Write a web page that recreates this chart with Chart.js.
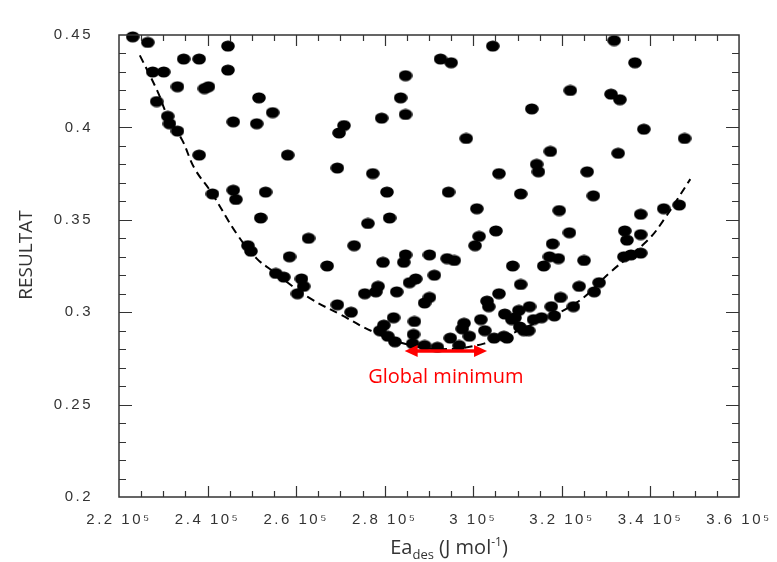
<!DOCTYPE html>
<html lang="fr">
<head>
<meta charset="UTF-8">
<title>RESULTAT vs Ea des</title>
<script src="https://cdn.jsdelivr.net/npm/chart.js"></script>
<style>
  html, body { margin: 0; padding: 0; background: white; }
  #chart { display: block; }
</style>
</head>
<body>
<canvas id="chart" width="777" height="562"></canvas>
<script>
// scatter points: Ea_des (J/mol) and RESULTAT
const eaDes = [
  2.231e5, 2.265e5, 2.446e5, 2.346e5, 2.381e5, 2.276e5, 2.301e5, 2.446e5, 2.332e5, 2.393e5,
  2.402e5, 2.516e5, 2.285e5, 2.547e5, 2.310e5, 2.458e5, 2.511e5, 2.314e5, 2.332e5, 2.381e5,
  2.581e5, 2.411e5, 2.458e5, 2.531e5, 2.464e5, 2.520e5, 2.628e5, 2.491e5, 2.498e5, 2.585e5,
  2.554e5, 2.572e5, 2.612e5, 2.617e5, 2.603e5,
  3.044e5, 2.926e5, 2.950e5, 2.847e5, 2.836e5, 2.793e5, 2.847e5, 2.708e5, 2.697e5, 2.984e5,
  2.693e5, 2.773e5, 3.058e5, 2.805e5, 2.944e5,
  3.318e5, 3.365e5, 3.219e5, 3.311e5, 3.331e5, 3.132e5, 3.385e5, 3.477e5, 3.174e5, 3.327e5,
  3.143e5, 3.147e5, 3.257e5, 3.107e5, 3.271e5,
  3.008e5, 2.811e5, 2.762e5, 3.051e5, 3.013e5, 3.004e5, 2.731e5, 2.847e5, 2.843e5, 2.901e5,
  2.941e5, 2.957e5, 2.796e5, 2.670e5, 2.912e5, 2.870e5, 2.856e5, 2.785e5, 2.780e5, 2.755e5,
  2.827e5, 2.901e5, 2.890e5, 2.693e5, 2.724e5, 2.820e5, 2.798e5, 2.867e5, 2.789e5, 2.807e5,
  2.823e5, 2.865e5, 2.863e5, 2.890e5, 2.919e5, 2.948e5, 2.968e5, 2.979e5, 2.975e5, 2.991e5,
  3.017e5, 3.026e5, 3.035e5, 3.031e5, 3.058e5, 3.071e5, 3.047e5, 3.069e5,
  3.194e5, 3.378e5, 3.430e5, 3.465e5, 3.217e5, 3.342e5, 3.347e5, 3.378e5, 3.179e5, 3.172e5,
  3.192e5, 3.250e5, 3.340e5, 3.356e5, 3.378e5, 3.089e5, 3.159e5, 3.107e5, 3.239e5, 3.284e5,
  3.273e5, 3.197e5, 3.176e5, 3.226e5, 3.127e5, 3.103e5, 3.154e5, 3.136e5, 3.183e5, 3.087e5,
  3.105e5, 3.125e5, 3.114e5, 3.076e5, 3.094e5
];
const resultat = [
  0.449, 0.446, 0.444, 0.437, 0.437, 0.430, 0.430, 0.431, 0.422, 0.421,
  0.422, 0.416, 0.414, 0.408, 0.406, 0.403, 0.402, 0.402, 0.398, 0.385,
  0.385, 0.364, 0.366, 0.365, 0.361, 0.351, 0.340, 0.336, 0.333, 0.330,
  0.321, 0.319, 0.318, 0.314, 0.310,
  0.444, 0.437, 0.435, 0.428, 0.416, 0.405, 0.407, 0.401, 0.397, 0.394,
  0.378, 0.375, 0.375, 0.365, 0.365,
  0.447, 0.435, 0.420, 0.418, 0.415, 0.410, 0.399, 0.394, 0.387, 0.386,
  0.380, 0.376, 0.376, 0.364, 0.363,
  0.356, 0.351, 0.348, 0.344, 0.341, 0.336, 0.336, 0.331, 0.327, 0.331,
  0.329, 0.328, 0.327, 0.325, 0.320, 0.318, 0.316, 0.314, 0.311, 0.310,
  0.311, 0.308, 0.305, 0.304, 0.300, 0.297, 0.293, 0.295, 0.290, 0.287,
  0.284, 0.288, 0.283, 0.282, 0.281, 0.286, 0.282, 0.294, 0.291, 0.287,
  0.296, 0.290, 0.303, 0.306, 0.310, 0.299, 0.286, 0.287,
  0.355, 0.353, 0.356, 0.358, 0.343, 0.344, 0.339, 0.342, 0.337, 0.330,
  0.329, 0.328, 0.330, 0.331, 0.332, 0.325, 0.325, 0.315, 0.314, 0.316,
  0.311, 0.308, 0.303, 0.303, 0.303, 0.301, 0.297, 0.296, 0.298, 0.296,
  0.292, 0.290, 0.290, 0.286, 0.297
];

// dashed envelope curve
const curveEa = [2.247e5, 2.287e5, 2.310e5, 2.343e5, 2.370e5, 2.408e5, 2.467e5, 2.511e5, 2.543e5, 2.628e5,
  2.702e5, 2.773e5, 2.852e5, 2.930e5, 3.024e5, 3.120e5, 3.232e5, 3.311e5, 3.394e5, 3.430e5, 3.490e5];
const curveResultat = [0.439, 0.4195, 0.406, 0.393, 0.378, 0.365, 0.342, 0.329, 0.323, 0.308,
  0.2985, 0.2895, 0.2825, 0.280, 0.283, 0.292, 0.305, 0.322, 0.339, 0.350, 0.372];

// "Global minimum" double arrow
const arrowEa = [2.845e5, 3.031e5];
const arrowResultat = 0.279;
const arrowText = 'Global minimum';

const xTickValues = [2.2e5, 2.4e5, 2.6e5, 2.8e5, 3.0e5, 3.2e5, 3.4e5, 3.6e5];
const xTickLabels = ['2.2 10⁵', '2.4 10⁵', '2.6 10⁵', '2.8 10⁵', '3 10⁵', '3.2 10⁵', '3.4 10⁵', '3.6 10⁵'];
const yTickValues = [0.2, 0.25, 0.3, 0.35, 0.4, 0.45];
const yTickLabels = ['0.2', '0.25', '0.3', '0.35', '0.4', '0.45'];

function nearestLabel(values, labels, v) {
  let best = 0;
  values.forEach((t, i) => { if (Math.abs(t - v) < Math.abs(values[best] - v)) best = i; });
  return labels[best];
}

// elliptical black marker
const dot = document.createElement('canvas');
dot.width = 14; dot.height = 12;
(function () {
  const c = dot.getContext('2d');
  c.fillStyle = '#000';
  c.beginPath();
  c.ellipse(7, 6, 6.8, 5.6, 0, 0, Math.PI * 2);
  c.fill();
})();

const AXIS = '#333';
const TITLE_FONT = '"Open Sans", sans-serif';

const framePlugin = {
  id: 'frame',
  beforeDraw(chart) { chart.ctx.letterSpacing = '2.5px'; },
  beforeDatasetsDraw(chart) { chart.ctx.letterSpacing = '0px'; },
  afterDraw(chart) {
    const { ctx, chartArea: a, scales: { x, y } } = chart;
    ctx.save();
    ctx.letterSpacing = '0px';
    ctx.strokeStyle = AXIS;
    ctx.lineWidth = 1.5;
    ctx.strokeRect(a.left, a.top, a.right - a.left, a.bottom - a.top);

    // inward ticks on all four sides (major + minor)
    ctx.beginPath();
    ctx.lineWidth = 1.2;
    for (let i = 1; i < 28; i++) {
      const v = 2.2e5 + i * 5000;
      const px = Math.round(x.getPixelForValue(v)) + 0.5;
      const len = i % 4 === 0 ? 11 : 6;
      ctx.moveTo(px, a.bottom); ctx.lineTo(px, a.bottom - len);
      ctx.moveTo(px, a.top); ctx.lineTo(px, a.top + len);
    }
    for (let i = 1; i < 25; i++) {
      const v = 0.2 + i * 0.01;
      const py = Math.round(y.getPixelForValue(v)) + 0.5;
      const len = i % 5 === 0 ? 13 : 7;
      ctx.moveTo(a.left, py); ctx.lineTo(a.left + len, py);
      ctx.moveTo(a.right, py); ctx.lineTo(a.right - len, py);
    }
    ctx.stroke();

    // red double arrow
    const x1 = x.getPixelForValue(arrowEa[0]);
    const x2 = x.getPixelForValue(arrowEa[1]);
    const ay = y.getPixelForValue(arrowResultat);
    ctx.strokeStyle = '#ff0000';
    ctx.fillStyle = '#ff0000';
    ctx.lineWidth = 3.5;
    ctx.beginPath();
    ctx.moveTo(x1 + 8, ay); ctx.lineTo(x2 - 8, ay);
    ctx.stroke();
    ctx.beginPath();
    ctx.moveTo(x1, ay); ctx.lineTo(x1 + 13, ay - 6); ctx.lineTo(x1 + 13, ay + 6); ctx.closePath();
    ctx.moveTo(x2, ay); ctx.lineTo(x2 - 13, ay - 6); ctx.lineTo(x2 - 13, ay + 6); ctx.closePath();
    ctx.fill();
    ctx.font = '20px ' + TITLE_FONT;
    ctx.textAlign = 'center';
    ctx.textBaseline = 'middle';
    ctx.fillText(arrowText, (x1 + x2) / 2, ay + 26);

    // y title
    ctx.fillStyle = '#333';
    ctx.save();
    ctx.translate(27, (a.top + a.bottom) / 2 - 11);
    ctx.rotate(-Math.PI / 2);
    ctx.font = '19px ' + TITLE_FONT;
    ctx.textAlign = 'center';
    ctx.fillText('RESULTAT', 0, 0);
    ctx.restore();

    // x title: Ea_des (J mol^-1)
    const parts = [
      { t: 'Ea', f: '20px ' + TITLE_FONT, dy: 0 },
      { t: 'des', f: '13px ' + TITLE_FONT, dy: 5 },
      { t: ' (J mol', f: '20px ' + TITLE_FONT, dy: 0 },
      { t: '-1', f: '12px ' + TITLE_FONT, dy: -8 },
      { t: ')', f: '20px ' + TITLE_FONT, dy: 0 }
    ];
    let total = 0;
    parts.forEach(p => { ctx.font = p.f; p.w = ctx.measureText(p.t).width; total += p.w; });
    let cx = (a.left + a.right) / 2 + 20 - total / 2;
    const base = 554;
    ctx.textAlign = 'left';
    ctx.textBaseline = 'alphabetic';
    parts.forEach(p => { ctx.font = p.f; ctx.fillText(p.t, cx, base + p.dy); cx += p.w; });
    ctx.restore();
  }
};

new Chart(document.getElementById('chart'), {
  type: 'scatter',
  data: {
    datasets: [
      {
        data: eaDes.map((v, i) => ({ x: v, y: resultat[i] })),
        pointStyle: dot,
        pointRadius: 6,
        clip: false
      },
      {
        data: curveEa.map((v, i) => ({ x: v, y: curveResultat[i] })),
        showLine: true,
        pointRadius: 0,
        borderColor: '#000',
        borderWidth: 2,
        borderDash: [8, 5],
        tension: 0.4,
        fill: false
      }
    ]
  },
  options: {
    responsive: false,
    animation: false,
    events: [],
    layout: { padding: { left: 0, top: 22, right: 33, bottom: 0 } },
    plugins: { legend: { display: false }, tooltip: { enabled: false } },
    scales: {
      x: {
        type: 'linear',
        min: 2.2e5, max: 3.6e5,
        afterBuildTicks: s => { s.ticks = xTickValues.map(v => ({ value: v })); },
        afterFit: s => { s.height = 65; },
        grid: { display: false, drawTicks: false },
        border: { display: false },
        ticks: {
          padding: 14,
          maxRotation: 0,
          autoSkip: false,
          color: '#333',
          font: { family: '"Liberation Sans", Arial, sans-serif', size: 15 },
          callback: v => nearestLabel(xTickValues, xTickLabels, v)
        }
      },
      y: {
        type: 'linear',
        min: 0.2, max: 0.45,
        afterBuildTicks: s => { s.ticks = yTickValues.map(v => ({ value: v })); },
        afterFit: s => { s.width = 119; },
        grid: { display: false, drawTicks: false },
        border: { display: false },
        ticks: {
          padding: 26,
          color: '#333',
          font: { family: '"Liberation Sans", Arial, sans-serif', size: 15 },
          callback: v => nearestLabel(yTickValues, yTickLabels, v)
        }
      }
    }
  },
  plugins: [framePlugin]
});
</script>
</body>
</html>
